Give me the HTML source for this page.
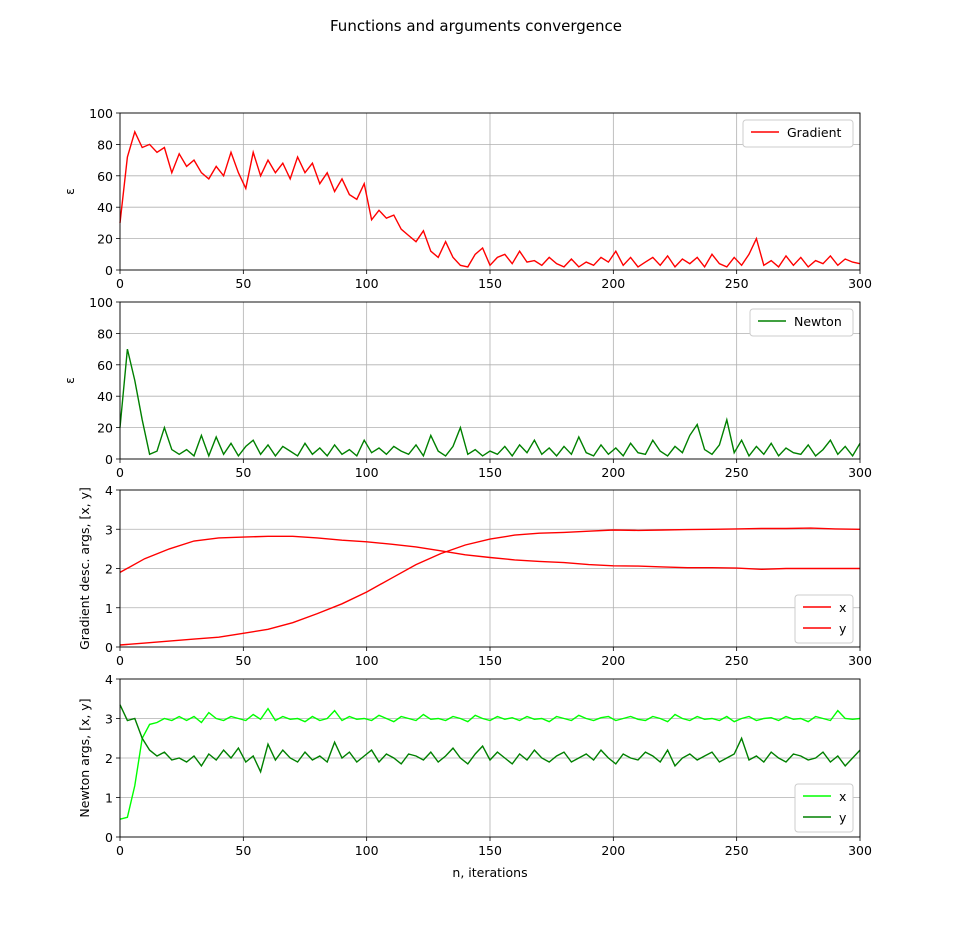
<!DOCTYPE html>
<html><head><meta charset="utf-8"><style>
body{margin:0;background:#fff;font-family:"Liberation Sans","DejaVu Sans",sans-serif}
svg text{font-family:"DejaVu Sans","Liberation Sans",sans-serif;font-size:12.5px;fill:#000}
</style></head><body>
<svg id="chart" width="956" height="940" xmlns="http://www.w3.org/2000/svg">
<rect width="956" height="940" fill="#fff"/>
<text x="476" y="31" text-anchor="middle" style="font-size:15px">Functions and arguments convergence</text>
<text x="490" y="877" text-anchor="middle">n, iterations</text>
</svg>
<script>
const gradEps=[30,72,88,78,80,75,78,62,74,66,70,62,58,66,60,75,62,52,75,60,70,62,68,58,72,62,68,55,62,50,58,48,45,55,32,38,33,35,26,22,18,25,12,8,18,8,3,2,10,14,3,8,10,4,12,5,6,3,8,4,2,7,2,5,3,8,5,12,3,8,2,5,8,3,9,2,7,4,8,2,10,4,2,8,3,10,20,3,6,2,9,3,8,2,6,4,9,3,7,5,4];
const newtEps=[20,70,50,25,3,5,20,6,3,6,2,15,2,14,3,10,2,8,12,3,9,2,8,5,2,10,3,7,2,9,3,6,2,12,4,7,3,8,5,3,9,2,15,5,2,8,20,3,6,2,5,3,8,2,9,4,12,3,7,2,8,3,14,4,2,9,3,7,2,10,4,3,12,5,2,8,4,15,22,6,3,9,25,4,12,2,8,3,10,2,7,4,3,9,2,6,12,3,8,2,10];
const gradX=[0.05,0.1,0.15,0.2,0.25,0.35,0.45,0.62,0.85,1.1,1.4,1.75,2.1,2.38,2.6,2.75,2.85,2.9,2.92,2.95,2.98,2.97,2.98,2.99,3.0,3.01,3.02,3.02,3.03,3.01,3.0];
const gradY=[1.9,2.25,2.5,2.7,2.78,2.8,2.82,2.82,2.78,2.72,2.68,2.62,2.55,2.45,2.35,2.28,2.22,2.18,2.15,2.1,2.07,2.06,2.04,2.02,2.02,2.01,1.98,2.0,2.0,2.0,2.0];
const newtX=[0.45,0.5,1.3,2.5,2.85,2.9,3.0,2.95,3.05,2.95,3.05,2.9,3.15,3.0,2.95,3.05,3.0,2.95,3.1,2.98,3.25,2.95,3.05,2.98,3.0,2.92,3.05,2.95,3.0,3.2,2.95,3.05,2.98,3.0,2.95,3.08,3.0,2.92,3.05,3.0,2.95,3.1,2.98,3.0,2.95,3.05,3.0,2.92,3.08,3.0,2.95,3.05,2.98,3.02,2.95,3.05,2.98,3.0,2.92,3.05,3.0,2.95,3.08,3.0,2.95,3.02,3.05,2.95,3.0,3.05,2.98,2.95,3.05,3.0,2.92,3.1,3.0,2.95,3.05,2.98,3.0,2.95,3.05,2.92,3.0,3.05,2.95,3.0,3.02,2.95,3.05,2.98,3.0,2.92,3.05,3.0,2.95,3.2,3.0,2.98,3.0];
const newtY=[3.35,2.95,3.0,2.5,2.2,2.05,2.15,1.95,2.0,1.9,2.05,1.8,2.1,1.95,2.2,2.0,2.25,1.9,2.05,1.65,2.35,1.95,2.2,2.0,1.9,2.15,1.95,2.05,1.9,2.4,2.0,2.15,1.9,2.05,2.2,1.9,2.1,2.0,1.85,2.1,2.05,1.95,2.15,1.9,2.05,2.25,2.0,1.85,2.1,2.3,1.95,2.15,2.0,1.85,2.1,1.95,2.2,2.0,1.9,2.05,2.15,1.9,2.0,2.1,1.95,2.2,2.0,1.85,2.1,2.0,1.95,2.15,2.05,1.9,2.2,1.8,2.0,2.1,1.95,2.05,2.15,1.9,2.0,2.1,2.5,1.95,2.05,1.9,2.15,2.0,1.9,2.1,2.05,1.95,2.0,2.15,1.9,2.05,1.8,2.0,2.2];
const xTicks=[0,50,100,150,200,250,300];
const epsTicks=[0,20,40,60,80,100];
const argTicks=[0,1,2,3,4];
const NS="http://www.w3.org/2000/svg";
const svg=document.getElementById('chart');
function el(t,a,p){const e=document.createElementNS(NS,t);for(const k in a)e.setAttribute(k,a[k]);(p||svg).appendChild(e);return e;}
const L=120,R=860;
const panels=[
 {top:113,bot:270,ymax:100,yt:epsTicks,ylab:'ε',name:'gradient-error'},
 {top:302,bot:459,ymax:100,yt:epsTicks,ylab:'ε',name:'newton-error'},
 {top:490,bot:647,ymax:4,yt:argTicks,ylab:'Gradient desc. args, [x, y]',name:'gradient-args'},
 {top:679,bot:837,ymax:4,yt:argTicks,ylab:'Newton args, [x, y]',name:'newton-args'}];
const sx=v=>L+(R-L)*v/300;
panels.forEach(p=>{
 p.sy=v=>p.bot-(p.bot-p.top)*v/p.ymax;
 const g=el('g',{});
 
 
 p.g=g;
 xTicks.forEach(t=>{el('line',{x1:sx(t),x2:sx(t),y1:p.top,y2:p.bot,stroke:'#b0b0b0','stroke-width':0.8},g);
  el('line',{x1:sx(t),x2:sx(t),y1:p.bot,y2:p.bot+4,stroke:'#000','stroke-width':0.8},g);
  const tx=el('text',{x:sx(t),y:p.bot+18,'text-anchor':'middle'},g);tx.textContent=t;});
 p.yt.forEach(t=>{el('line',{x1:L,x2:R,y1:p.sy(t),y2:p.sy(t),stroke:'#b0b0b0','stroke-width':0.8},g);
  el('line',{x1:L-4,x2:L,y1:p.sy(t),y2:p.sy(t),stroke:'#000','stroke-width':0.8},g);
  const tx=el('text',{x:L-7,y:p.sy(t)+5,'text-anchor':'end'},g);tx.textContent=t;});
 const yl=el('text',{x:0,y:0,'text-anchor':'middle',transform:`translate(${p.ymax==100?74:89},${(p.top+p.bot)/2}) rotate(-90)`},g);
 yl.textContent=p.ylab;
 
 
});
function line(p,data,step,color,name){
 const pts=data.map((v,i)=>sx(i*step).toFixed(1)+','+p.sy(v).toFixed(1)).join(' ');
 const e=el('polyline',{points:pts,fill:'none',stroke:color,'stroke-width':1.4},p.g);
 
 
}
line(panels[0],gradEps,3,'#ff0000','gradient-error-line');
line(panels[1],newtEps,3,'#008000','newton-error-line');
line(panels[2],gradX,10,'#ff0000','gradient-x-line');
line(panels[2],gradY,10,'#ff0000','gradient-y-line');
line(panels[3],newtX,3,'#00ff00','newton-x-line');
line(panels[3],newtY,3,'#008000','newton-y-line');
panels.forEach(p=>el('rect',{x:L,y:p.top,width:R-L,height:p.bot-p.top,fill:'none',stroke:'#000','stroke-width':0.9},p.g));
function legend(p,x,y,w,items){
 const g=el('g',{},p.g);
 
 
 el('rect',{x:x,y:y,width:w,height:6+items.length*21,rx:3,fill:'#fff',stroke:'#ccc'},g);
 items.forEach((it,i)=>{const cy=y+12+i*21;
  el('line',{x1:x+8,x2:x+36,y1:cy,y2:cy,stroke:it[1],'stroke-width':1.4},g);
  const t=el('text',{x:x+44,y:cy+5},g);t.textContent=it[0];});
}
legend(panels[0],743,120,110,[['Gradient','#ff0000']]);
legend(panels[1],750,309,103,[['Newton','#008000']]);
legend(panels[2],795,595,58,[['x','#ff0000'],['y','#ff0000']]);
legend(panels[3],795,784,58,[['x','#00ff00'],['y','#008000']]);
</script>
</body></html>
